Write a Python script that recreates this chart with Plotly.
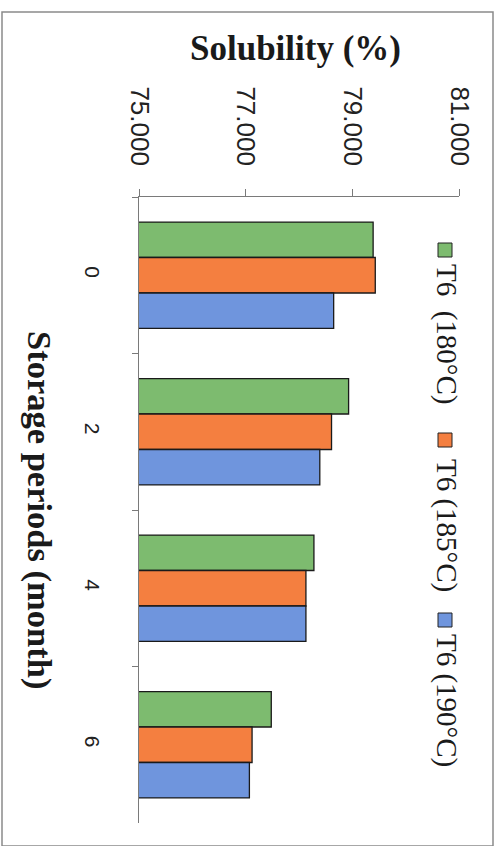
import plotly.graph_objects as go

# Storage period categories (months) and solubility (%) for each T6 drying temperature
periods = ["0", "2", "4", "6"]
sol_180 = [79.39, 78.93, 78.28, 77.48]
sol_185 = [79.43, 78.61, 78.13, 77.12]
sol_190 = [78.65, 78.39, 78.13, 77.07]
series_names = ["T6\u00a0\u00a0(180°C)", "T6 (185°C)", "T6 (190°C)"]
series_colors = ["#7dbb6f", "#f47f40", "#6f95dd"]
value_ticks = [75, 77, 79, 81]

W, H = 504, 846
L, R, T, B = 139, 45, 197, 23          # plot-area margins in pixels
PW, PH = W - L - R, H - T - B

def px(x):
    """pixel x -> paper x"""
    return (x - L) / PW

def py(y):
    """pixel y (from top) -> paper y"""
    return 1 - (y - T) / PH

serif = "Liberation Serif"
sans = "Liberation Sans"

fig = go.Figure()
for name, vals, col in zip(series_names, [sol_180, sol_185, sol_190], series_colors):
    fig.add_trace(go.Bar(
        y=periods, x=vals, orientation="h", name=name,
        marker=dict(color=col, line=dict(color="#1a1a1a", width=1.3)),
        showlegend=False,
    ))

fig.update_layout(
    width=W, height=H,
    margin=dict(l=L, r=R, t=T, b=B),
    paper_bgcolor="white", plot_bgcolor="white",
    barmode="group", bargap=0.32, bargroupgap=0.0,
    xaxis=dict(
        side="top", range=[value_ticks[0], value_ticks[-1]],
        tickvals=value_ticks, tickformat=".3f", tickangle=90,
        tickfont=dict(family=sans, size=26, color="#222"),
        showgrid=False, zeroline=False,
        showline=True, linecolor="#7a7a7a", linewidth=1,
        ticks="outside", ticklen=7, tickcolor="#7a7a7a",
        ticklabelstandoff=14,
    ),
    yaxis=dict(
        type="category", autorange="reversed",
        tickson="boundaries", tickangle=90,
        tickfont=dict(family=sans, size=21, color="#222"),
        showgrid=False, zeroline=False,
        showline=True, linecolor="#7a7a7a", linewidth=1,
        ticks="outside", ticklen=6, tickcolor="#7a7a7a",
        ticklabelstandoff=28,
    ),
)

# Outer chart frame
fig.add_shape(type="rect", xref="paper", yref="paper",
              x0=px(2), x1=px(493), y0=py(846), y1=py(12),
              line=dict(color="#8a8a8a", width=1.5), fillcolor="rgba(0,0,0,0)",
              layer="below")

annotations = [
    dict(text="<b>Solubility (%)</b>", x=px(295), y=py(48),
         font=dict(family=serif, size=35, color="#1a1a1a"), textangle=0),
    dict(text="<b>Storage periods (month)</b>", x=px(40), y=py(510),
         font=dict(family=serif, size=34.5, color="#1a1a1a"), textangle=90),
]

# Legend drawn as rotated text with small colour swatches
legend_sq_y = [250, 440, 620]
legend_txt_y = [334, 525, 700]
for name, col, sy, ty in zip(series_names, series_colors, legend_sq_y, legend_txt_y):
    fig.add_shape(type="rect", xref="paper", yref="paper",
                  x0=px(438), x1=px(452), y0=py(sy + 7), y1=py(sy - 7),
                  fillcolor=col, line=dict(color="#222", width=1))
    annotations.append(dict(text=name, x=px(447), y=py(ty), textangle=90,
                            font=dict(family=serif, size=29, color="#1a1a1a")))

for a in annotations:
    a.update(xref="paper", yref="paper", showarrow=False,
             xanchor="center", yanchor="middle")
fig.update_layout(annotations=annotations)

fig.write_html("out.html")
